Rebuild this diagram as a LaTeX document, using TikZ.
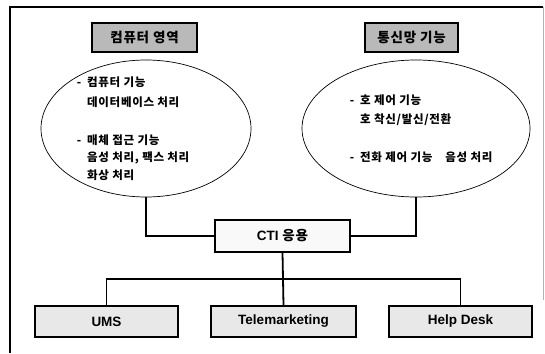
\documentclass[tikz,border=0pt]{standalone}
\usepackage{fontspec}
\usetikzlibrary{shapes.geometric}
\newfontfamily\kr{Noto Sans CJK KR}[LetterSpace=6]
\newfontfamily\lat{Liberation Sans}
\tikzset{
  titlebox/.style={draw=black, line width=1.2pt, fill=gray!55, minimum height=29pt, inner sep=0pt, font=\kr\bfseries\fontsize{13.5}{15}\selectfont},
  appbox/.style={draw=black, line width=1.4pt, fill=gray!18, minimum height=31pt, minimum width=143pt, inner sep=0pt, font=\lat\bfseries\fontsize{13.5}{15}\selectfont},
  ctibox/.style={draw=black, line width=1.2pt, fill=gray!5, minimum height=32pt, minimum width=135pt, inner sep=0pt},
  area/.style={draw=black, line width=0.7pt, ellipse, inner sep=0pt},
  item/.style={anchor=west, inner sep=0pt, font=\kr\bfseries\fontsize{11.5}{13}\selectfont},
  conn/.style={draw=black, line width=1.8pt},
  frame/.style={draw=black, line width=1.2pt}
}
\newcommand{\dsh}{\llap{-\hspace{6pt}}}
\begin{document}
\begin{tikzpicture}[x=1pt,y=-1pt]
\useasboundingbox (0,0) rectangle (545,353);
% frame
\coordinate (f1) at (10,353);
\coordinate (f2) at (10,7);
\coordinate (f3) at (543,7);
\coordinate (f4) at (543,300);
\draw[frame] (f1) -- (f2) -- (f3);
\draw[draw=gray!60, line width=0.8pt] (f3) -- (f4);
% titles
\node[titlebox, minimum width=105pt] (tl) at (144.5,37.5) {컴퓨터 영역};
\node[titlebox, minimum width=93pt] (tr) at (411.5,37.5) {통신망 기능};
% ellipses
\node[area, minimum width=210pt, minimum height=137pt] (el) at (146,128.5) {};
\node[area, minimum width=228pt, minimum height=137pt] (er) at (416,128.5) {};
% left items
\node[item] (l1) at (87,82) {\dsh 컴퓨터 기능};
\node[item] (l2) at (87,102) {데이터베이스 처리};
\node[item] (l3) at (87,140) {\dsh 매체 접근 기능};
\node[item] (l4) at (87,157.5) {음성 처리, 팩스 처리};
\node[item] (l5) at (87,175) {화상 처리};
% right items
\node[item] (r1) at (360,100) {\dsh 호 제어 기능};
\node[item] (r2) at (360,120) {호 착신/발신/전환};
\node[item] (r3) at (360,157.5) {\dsh 전화 제어 기능\hspace{13pt}음성 처리};
% CTI
\node[ctibox] (cti) at (282.5,236) {\lat\bfseries\fontsize{13.5}{15}\selectfont CTI \kr\bfseries 응용};
% apps
\node[appbox] (ums) at (106.5,321.5) {UMS};
\node[appbox, minimum width=145pt] (tele) at (283.5,321.5) {Telemarketing};
\node[appbox] (help) at (460.5,321.5) {Help Desk};
% connectors
\draw[conn] (el.south) |- (cti.west);
\draw[conn] (cti.east) -| (er.south);
\coordinate (bus) at (283,279);
\draw[conn] (cti.south) -- (tele.north);
\draw[conn] (ums.north) |- (bus) -| (help.north);
\end{tikzpicture}
\end{document}
